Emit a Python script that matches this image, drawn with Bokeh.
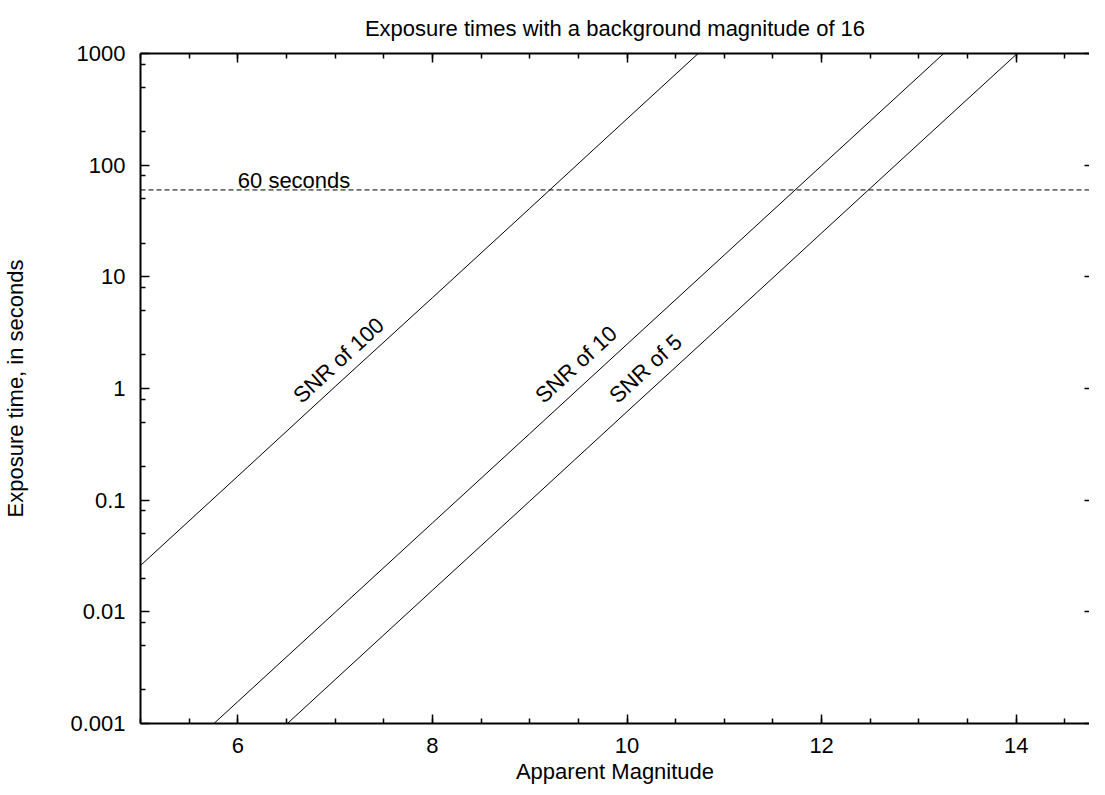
from bokeh.plotting import figure
from bokeh.models import (Range1d, FixedTicker, LinearAxis, LogAxis,
                          CustomJSTickFormatter, Span, ColumnDataSource)
from bokeh.core.properties import value
from bokeh.embed import file_html
from bokeh.resources import INLINE

# ---- data ----
title_text = "Exposure times with a background magnitude of 16"
x_label = "Apparent Magnitude"
y_label = "Exposure time, in seconds"

magnitude_snr100 = [5, 6, 7, 8, 9, 10, 11]
time_snr100 = [0.026, 0.164, 1.04, 6.5, 41, 260, 1640]

magnitude_snr10 = [5, 6, 7, 8, 9, 10, 11, 12, 13, 14]
time_snr10 = [0.00025, 0.00157, 0.0099, 0.0625, 0.394, 2.49, 15.7, 99, 625, 3950]

magnitude_snr5 = [6, 7, 8, 9, 10, 11, 12, 13, 14, 15]
time_snr5 = [0.00039, 0.00247, 0.0156, 0.098, 0.62, 3.9, 24.7, 156, 980, 6200]

limit_seconds = 60
limit_label = "60 seconds"
curve_labels = ["SNR of 100", "SNR of 10", "SNR of 5"]

x_major = [6, 8, 10, 12, 14]
x_minor = [5, 5.5, 6, 6.5, 7, 7.5, 8, 8.5, 9, 9.5, 10, 10.5, 11, 11.5,
           12, 12.5, 13, 13.5, 14, 14.5, 15]
y_major = [0.001, 0.01, 0.1, 1, 10, 100, 1000]
y_minor = [0.002, 0.005, 0.008, 0.02, 0.05, 0.08, 0.2, 0.5, 0.8,
           2, 5, 8, 20, 50, 80, 200, 500, 800]

FONT = "Liberation Sans"
FS = "22px"

p = figure(width=1089, height=787,
           x_range=Range1d(5, 14.753), y_range=Range1d(0.001, 1000),
           y_axis_type="log", output_backend="svg", toolbar_location=None,
           min_border_left=132, min_border_right=0, min_border_top=53,
           min_border_bottom=64)
p.outline_line_color = None
p.grid.visible = False
p.background_fill_color = "white"
p.border_fill_color = "white"

# title
p.title.text = title_text
p.title.align = "center"
p.title.vertical_align = "top"
p.title.text_font = FONT
p.title.text_font_size = FS
p.title.text_font_style = "normal"
p.title.text_color = "black"
p.title.standoff = 22

fmt = CustomJSTickFormatter(code="return String(tick);")
blank = CustomJSTickFormatter(code="return '';")

def style_axis(ax, major_in=9, minor_in=5):
    ax.axis_line_color = "black"
    ax.axis_line_width = 2
    ax.major_tick_in = major_in
    ax.major_tick_out = 0
    ax.minor_tick_in = minor_in
    ax.minor_tick_out = 0
    ax.major_tick_line_color = "black"
    ax.minor_tick_line_color = "black"
    ax.major_tick_line_width = 1.5
    ax.minor_tick_line_width = 1.5
    ax.major_label_text_font = FONT
    ax.major_label_text_font_size = FS
    ax.major_label_text_color = "black"
    ax.axis_label_text_font = FONT
    ax.axis_label_text_font_size = FS
    ax.axis_label_text_font_style = "normal"
    ax.axis_label_text_color = "black"

xa = p.xaxis[0]
xa.ticker = FixedTicker(ticks=x_major, minor_ticks=x_minor)
xa.formatter = fmt
xa.axis_label = x_label
style_axis(xa)
xa.major_label_standoff = 14
xa.axis_label_standoff = 3

ya = p.yaxis[0]
ya.ticker = FixedTicker(ticks=y_major, minor_ticks=y_minor)
ya.formatter = fmt
ya.axis_label = y_label
style_axis(ya)
ya.major_label_standoff = 15
ya.axis_label_standoff = 39

top = LinearAxis(ticker=FixedTicker(ticks=x_major, minor_ticks=x_minor),
                 formatter=blank)
style_axis(top)
top.major_label_text_font_size = "1px"
top.major_label_standoff = 0
p.add_layout(top, "above")

right = LogAxis(ticker=FixedTicker(ticks=y_major, minor_ticks=[]),
                formatter=blank)
style_axis(right, major_in=5, minor_in=0)
right.axis_line_alpha = 0
right.major_label_text_font_size = "1px"
right.major_label_standoff = 0
p.add_layout(right, "right")

# curves
p.line(magnitude_snr100, time_snr100, line_color="black", line_width=1)
p.line(magnitude_snr10, time_snr10, line_color="black", line_width=1)
p.line(magnitude_snr5, time_snr5, line_color="black", line_width=1)

# 60 second line
p.add_layout(Span(location=limit_seconds, dimension="width", line_color="black",
                  line_width=1, line_dash="5 3"))

p.text(x=[6.0], y=[73], text=[limit_label], text_font=value(FONT),
       text_font_size=FS, text_color="black", text_align="left",
       text_baseline="alphabetic")

lab_src = ColumnDataSource(dict(x=[6.604, 9.092, 9.853], y=[0.81, 0.81, 0.81],
                                text=curve_labels))
p.text(x="x", y="y", text="text", source=lab_src, angle=42.56, angle_units="deg",
       text_font=value(FONT), text_font_size=FS, text_color="black",
       text_align="left", text_baseline="alphabetic")

open("out.html", "w").write(file_html(p, INLINE))
